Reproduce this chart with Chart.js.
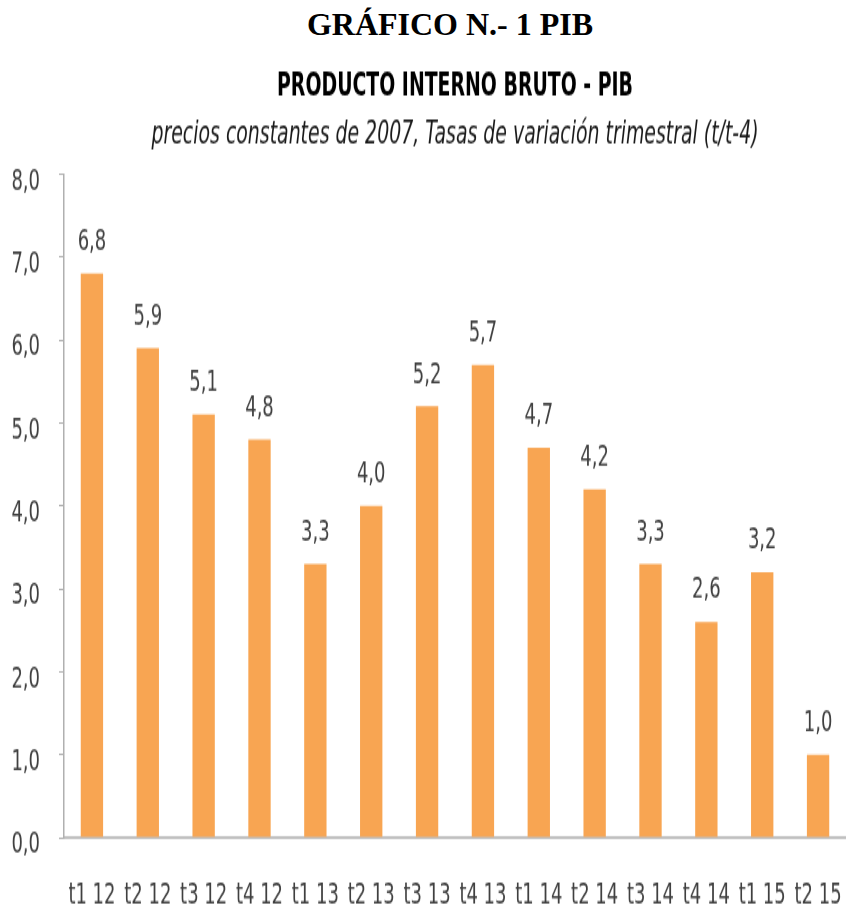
<!DOCTYPE html>
<html>
<head>
<meta charset="utf-8">
<script src="https://cdn.jsdelivr.net/npm/chart.js@4.4.1/dist/chart.umd.min.js"></script>
<style>
    html, body { margin: 0; padding: 0; background: #fff; }
    body { width: 846px; height: 911px; position: relative; overflow: hidden; }
    #heading {
        position: absolute; left: 0; top: 4px; width: 900px; height: 40px;
        line-height: 40px; text-align: center;
        font-family: 'Liberation Serif', 'Times New Roman', serif; font-weight: bold; font-size: 32px; color: #000;
    }
    /* the source picture is stretched vertically, so the canvas is too */
    #pib-chart { position: absolute; left: 0; top: 55px; width: 846px; height: 856px; }
</style>
</head>
<body>
<div id="heading">GRÁFICO N.- 1 PIB</div>
<canvas id="pib-chart" width="846" height="571" style="width:846px;height:856px"></canvas>
<script>
// data
const quarters = ['t1 12', 't2 12', 't3 12', 't4 12', 't1 13', 't2 13', 't3 13', 't4 13', 't1 14', 't2 14', 't3 14', 't4 14', 't1 15', 't2 15'];
const growthRates = [6.8, 5.9, 5.1, 4.8, 3.3, 4.0, 5.2, 5.7, 4.7, 4.2, 3.3, 2.6, 3.2, 1.0];
const yTicks = [0, 1, 2, 3, 4, 5, 6, 7, 8];

const condensed = "'DejaVu Sans Condensed', 'Liberation Sans Narrow', sans-serif";
const fmt = v => v.toFixed(1).replace('.', ',');

// value labels above bars
const barLabels = {
    id: 'barLabels',
    afterDatasetsDraw(chart) {
        const ctx = chart.ctx;
        const meta = chart.getDatasetMeta(0);
        ctx.save();
        ctx.font = '20px ' + condensed;
        ctx.fillStyle = '#404040';
        ctx.textAlign = 'center';
        ctx.textBaseline = 'middle';
        meta.data.forEach((bar, i) => {
            ctx.fillText(fmt(growthRates[i]), bar.x, bar.y - 21);
        });
        ctx.restore();
    }
};

new Chart(document.getElementById('pib-chart'), {
    type: 'bar',
    data: {
        labels: quarters,
        datasets: [{
            data: growthRates,
            backgroundColor: '#F8A552',
            categoryPercentage: 0.8,
            barPercentage: 0.5
        }]
    },
    options: {
        responsive: false,
        animation: false,
        layout: { padding: 0 },
        plugins: {
            legend: { display: false },
            tooltip: { enabled: false },
            title: {
                display: true,
                fullSize: false,
                text: 'PRODUCTO INTERNO BRUTO - PIB',
                color: '#000',
                font: { family: condensed, size: 21, weight: 'bold' },
                padding: { top: 9, bottom: 0 }
            },
            subtitle: {
                display: true,
                fullSize: false,
                text: 'precios constantes de 2007, Tasas de variación trimestral (t/t-4)',
                color: '#1a1a1a',
                font: { family: condensed, size: 21, style: 'italic' },
                padding: { top: 7, bottom: 13 }
            }
        },
        scales: {
            x: {
                afterFit: scale => {
                    scale.height = 49;
                    scale.paddingLeft = 0;
                    scale.paddingRight = 0;
                },
                grid: { display: false, drawTicks: false },
                border: { display: true, color: '#c0c0c0', width: 2 },
                ticks: {
                    color: '#404040',
                    font: { family: condensed, size: 20 },
                    padding: 27,
                    maxRotation: 0,
                    autoSkip: false
                }
            },
            y: {
                min: 0,
                max: 8,
                afterBuildTicks: scale => { scale.ticks = yTicks.map(v => ({ value: v })); },
                afterFit: scale => {
                    scale.width = 64;
                    scale.paddingTop = 0;
                    scale.paddingBottom = 0;
                },
                grid: { drawOnChartArea: false, drawTicks: true, tickLength: 5, color: '#b0b0b0' },
                border: { display: true, color: '#b0b0b0', width: 1.5 },
                ticks: {
                    color: '#404040',
                    font: { family: condensed, size: 20 },
                    padding: 19,
                    labelOffset: 5,
                    callback: v => fmt(v)
                }
            }
        }
    },
    plugins: [barLabels]
});
</script>
</body>
</html>
